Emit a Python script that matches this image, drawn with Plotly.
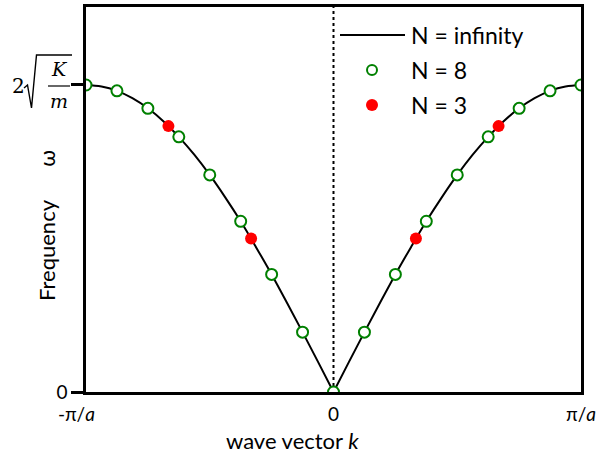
import plotly.graph_objects as go

# wave vector in units of pi/a, frequency in units of 2*sqrt(K/m)
k_curve = [0.0, 0.0625, 0.125, 0.1875, 0.25, 0.3125, 0.375, 0.4375, 0.5,
           0.5625, 0.625, 0.6875, 0.75, 0.8125, 0.875, 0.9375, 1.0]
w_curve = [0.0, 0.098, 0.195, 0.290, 0.383, 0.471, 0.556, 0.634, 0.707,
           0.773, 0.831, 0.882, 0.924, 0.957, 0.981, 0.995, 1.0]

k_n8 = [-1.0, -0.875, -0.75, -0.625, -0.5, -0.375, -0.25, -0.125, 0.0,
        0.125, 0.25, 0.375, 0.5, 0.625, 0.75, 0.875, 1.0]
w_n8 = [1.0, 0.981, 0.924, 0.831, 0.707, 0.556, 0.383, 0.195, 0.0,
        0.195, 0.383, 0.556, 0.707, 0.831, 0.924, 0.981, 1.0]

k_n3 = [-0.667, -0.333, 0.333, 0.667]
w_n3 = [0.866, 0.5, 0.5, 0.866]

x_tickvals = [-1, 0, 1]
x_ticktext = ["-π/<i>a</i>\u2003\u00a0", "0", "π/<i>a</i>"]
y_tickvals = [0, 1]
y_ticktext = ["0", ""]

legend_names = ["N = infinity", "N = 8", "N = 3"]

W, H = 596, 460
L, R, T, B = 86, 15, 7, 68
PW, PH = W - L - R, H - T - B
FONT = "Lato, 'Open Sans', sans-serif"
GREEN = "#008000"
RED = "#ff0000"


def px(x):
    return (x - L) / PW


def py(y):
    return (H - B - y) / PH


fig = go.Figure()
# N = infinity curve (two branches to keep the cusp at k=0)
fig.add_trace(go.Scatter(x=[-k for k in k_curve], y=w_curve, mode="lines",
                         line=dict(color="black", width=2, shape="spline"),
                         showlegend=False, hoverinfo="skip"))
fig.add_trace(go.Scatter(x=k_curve, y=w_curve, mode="lines",
                         line=dict(color="black", width=2, shape="spline"),
                         showlegend=False, hoverinfo="skip"))
fig.add_trace(go.Scatter(x=k_n3, y=w_n3, mode="markers",
                         marker=dict(color=RED, size=12, line=dict(width=0)),
                         showlegend=False))
fig.add_trace(go.Scatter(x=k_n8, y=w_n8, mode="markers",
                         marker=dict(color="white", size=11,
                                     line=dict(color=GREEN, width=2)),
                         showlegend=False))

shapes = []
# dotted line at k = 0
shapes.append(dict(type="line", xref="x", yref="paper", x0=0, x1=0, y0=0, y1=1,
                   line=dict(color="black", width=2, dash="dot"), layer="below"))
# radical sign for tick label 2*sqrt(K/m)
path = "M{},{} L{},{} L{},{} L{},{} L{},{}".format(
    px(24), py(88), px(27.5), py(85), px(31.5), py(108), px(36.5), py(55),
    px(72), py(55))
shapes.append(dict(type="path", xref="paper", yref="paper", path=path,
                   line=dict(color="black", width=1.4)))
shapes.append(dict(type="line", xref="paper", yref="paper",
                   x0=px(48), x1=px(70), y0=py(86), y1=py(86),
                   line=dict(color="black", width=1.2)))
# manual legend
shapes.append(dict(type="line", xref="paper", yref="paper",
                   x0=px(340), x1=px(405), y0=py(35), y1=py(35),
                   line=dict(color="black", width=2)))
shapes.append(dict(type="circle", xref="paper", yref="paper",
                   x0=px(367), x1=px(377), y0=py(65), y1=py(75),
                   line=dict(color=GREEN, width=2), fillcolor="white"))
shapes.append(dict(type="circle", xref="paper", yref="paper",
                   x0=px(366), x1=px(378), y0=py(99), y1=py(111),
                   line=dict(width=0), fillcolor=RED))

annotations = []
for name, yy in zip(legend_names, [35, 70, 105]):
    annotations.append(dict(xref="paper", yref="paper", x=px(409), y=py(yy),
                            text=name, showarrow=False, xanchor="left",
                            yanchor="middle", font=dict(size=23, color="black",
                                                        family=FONT)))
serif = "'DejaVu Serif', 'Liberation Serif', serif"
annotations.append(dict(xref="paper", yref="paper", x=px(18), y=py(86),
                        text="2", showarrow=False, xanchor="center",
                        yanchor="middle", font=dict(size=20, family=serif,
                                                    color="black")))
annotations.append(dict(xref="paper", yref="paper", x=px(59), y=py(69),
                        text="<i>K</i>", showarrow=False, xanchor="center",
                        yanchor="middle", font=dict(size=19, family=serif,
                                                    color="black")))
annotations.append(dict(xref="paper", yref="paper", x=px(59), y=py(101),
                        text="<i>m</i>", showarrow=False, xanchor="center",
                        yanchor="middle", font=dict(size=19, family=serif,
                                                    color="black")))
# axis titles
annotations.append(dict(xref="paper", yref="paper", x=px(292), y=py(440),
                        text="wave vector <i>k</i>", showarrow=False,
                        xanchor="center", yanchor="middle",
                        font=dict(size=22, family=FONT, color="black")))
annotations.append(dict(xref="paper", yref="paper", x=px(46), y=py(226),
                        text="Frequency\u00a0\u00a0\u00a0\u00a0\u00a0\u00a0ω",
                        showarrow=False,
                        textangle=-90, xanchor="center", yanchor="middle",
                        font=dict(size=22, family=FONT, color="black")))

fig.update_layout(
    width=W, height=H,
    margin=dict(l=L, r=R, t=T, b=B),
    paper_bgcolor="white", plot_bgcolor="white",
    shapes=shapes, annotations=annotations,
    showlegend=False,
    font=dict(family=FONT, color="black"),
    xaxis=dict(range=[-1, 1], tickvals=x_tickvals, ticktext=x_ticktext,
               showgrid=False, zeroline=False, showline=True, mirror=True,
               linecolor="black", linewidth=2.5, ticks="", ticklabelstandoff=3,
               ticklabeloverflow="allow", automargin=False,
               tickfont=dict(size=19, family=FONT)),
    yaxis=dict(range=[0, 1.254], tickvals=y_tickvals, ticktext=y_ticktext,
               showgrid=False, zeroline=False, showline=True, mirror=True,
               linecolor="black", linewidth=2.5, ticks="outside", ticklen=12,
               tickwidth=2.5, tickcolor="black", automargin=False,
               tickfont=dict(size=19, family=FONT)),
)

fig.write_html("out.html", config={"displayModeBar": False},
               post_script="document.body.style.margin='0px';"
                           "document.body.style.overflow='hidden';")
